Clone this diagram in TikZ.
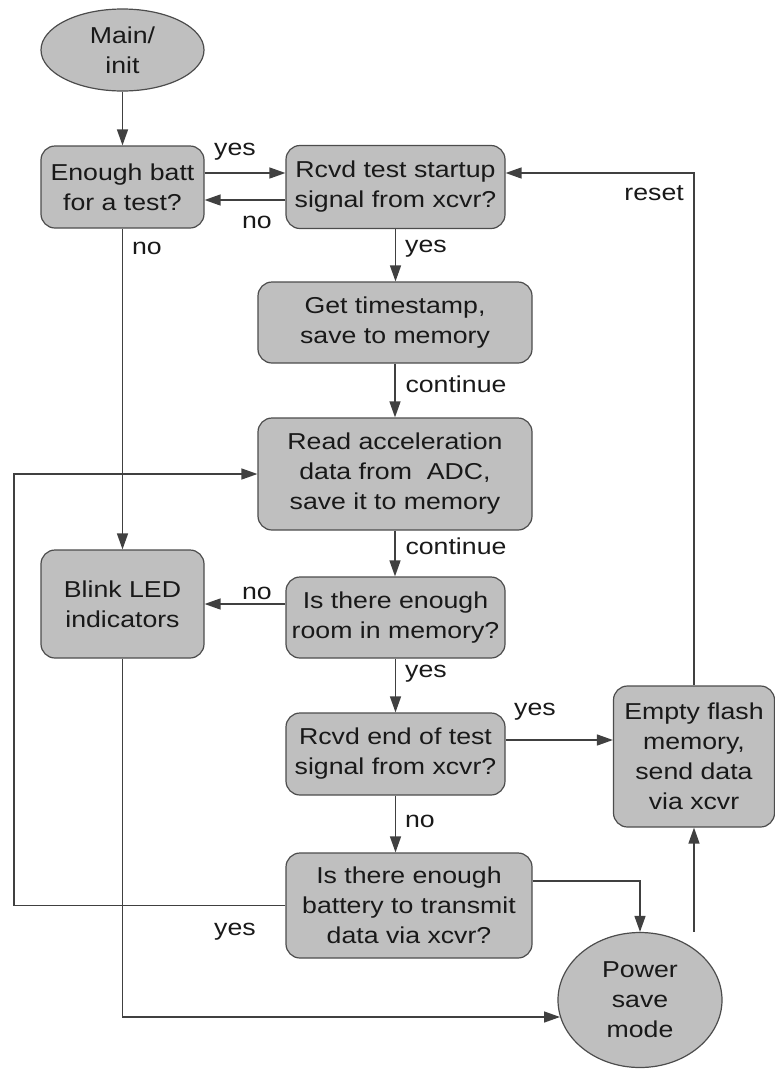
\documentclass[tikz,border=0pt]{standalone}
\usepackage{fontspec}
\setmainfont{Liberation Sans}[FakeStretch=1.16]
\usetikzlibrary{shapes.geometric,arrows.meta}

\tikzstyle{every node}=[font=\fontsize{23}{30}\selectfont, align=center, inner sep=0pt, text=black!90]
\tikzstyle{block}=[draw=black!70, fill=black!25, line width=1.2pt, rounded corners=14pt]
\tikzstyle{oval}=[ellipse, draw=black!70, fill=black!25, line width=1.2pt]
\tikzstyle{line}=[draw=black!75, line width=1.4pt]
\tikzstyle{arr}=[line, -{Triangle[length=16pt,width=11pt]}]

\begin{document}
\begin{tikzpicture}[x=1pt,y=-1pt]
    \useasboundingbox (0,0) rectangle (775,1069);
    \node [oval, minimum width=163pt, minimum height=82pt] (init) at (122.5,50) {Main/\\init};
    \node [block, minimum width=163pt, minimum height=82pt] (batt) at (122.5,187) {Enough batt\\for a test?};
    \node [block, minimum width=219pt, minimum height=83pt] (start) at (395.5,187) {Rcvd test startup\\signal from xcvr?};
    \node [block, minimum width=274pt, minimum height=81pt] (stamp) at (395,322.5) {Get timestamp,\\save to memory};
    \node [block, minimum width=274pt, minimum height=112pt] (accel) at (395,474) {Read acceleration\\data from\ \ ADC,\\save it to memory};
    \node [block, minimum width=163pt, minimum height=108pt] (blink) at (122.5,604) {Blink LED\\indicators};
    \node [block, minimum width=219pt, minimum height=81pt] (room) at (395.5,617.5) {Is there enough\\room in memory?};
    \node [block, minimum width=219pt, minimum height=82pt] (endtest) at (395.5,754) {Rcvd end of test\\signal from xcvr?};
    \node [block, minimum width=161pt, minimum height=141pt] (flash) at (694,756.5) {Empty flash\\memory,\\send data\\via xcvr};
    \node [block, minimum width=246pt, minimum height=105pt] (battx) at (409,905.5) {Is there enough\\battery to transmit\\data via xcvr?};
    \node [oval, minimum width=164pt, minimum height=135pt] (power) at (640,1000) {Power\\save\\mode};
    \coordinate (lft) at (14,0);

    \draw [arr] (init) -- (batt);
    \draw [arr] ([yshift=14pt]batt.east) -- ([yshift=14pt]start.west);
    \draw [arr] ([yshift=-13pt]start.west) -- ([yshift=-13pt]batt.east);
    \draw [arr] (batt) -- (blink);
    \draw [arr] (start.south) -- (start.south |- stamp.north);
    \draw [arr] (stamp.south) -- (stamp.south |- accel.north);
    \draw [arr] (accel.south) -- (accel.south |- room.north);
    \draw [arr] (blink.east -| room.west) -- (blink.east);
    \draw [arr] (room.south) -- (room.south |- endtest.north);
    \draw [arr] ([yshift=14pt]endtest.east) -- ([yshift=14pt]endtest.east -| flash.west);
    \draw [arr] (endtest.south) -- (endtest.south |- battx.north);
    \draw [arr] (battx.west) -- (battx.west -| lft) |- (accel.west);
    \draw [arr] ([yshift=24.5pt]battx.east) -| (power.north);
    \draw [arr] (blink.south) |- (power.192);
    \draw [arr] (power.north -| flash.south) -- (flash.south);
    \draw [arr] (flash.north) |- ([yshift=14pt]start.east);

    \node (yes1) at (235,152) {yes};
    \node (no1) at (257,222) {no};
    \node (no2) at (147,248) {no};
    \node (yes2) at (426,249) {yes};
    \node (cont1) at (456,384) {continue};
    \node (cont2) at (456,546) {continue};
    \node (no3) at (257,593) {no};
    \node (yes3) at (426,674) {yes};
    \node (yes4) at (535,712) {yes};
    \node (no4) at (420,821) {no};
    \node (yes5) at (235,932) {yes};
    \node [anchor=east] (reset) at (684,193) {reset};
\end{tikzpicture}
\end{document}
